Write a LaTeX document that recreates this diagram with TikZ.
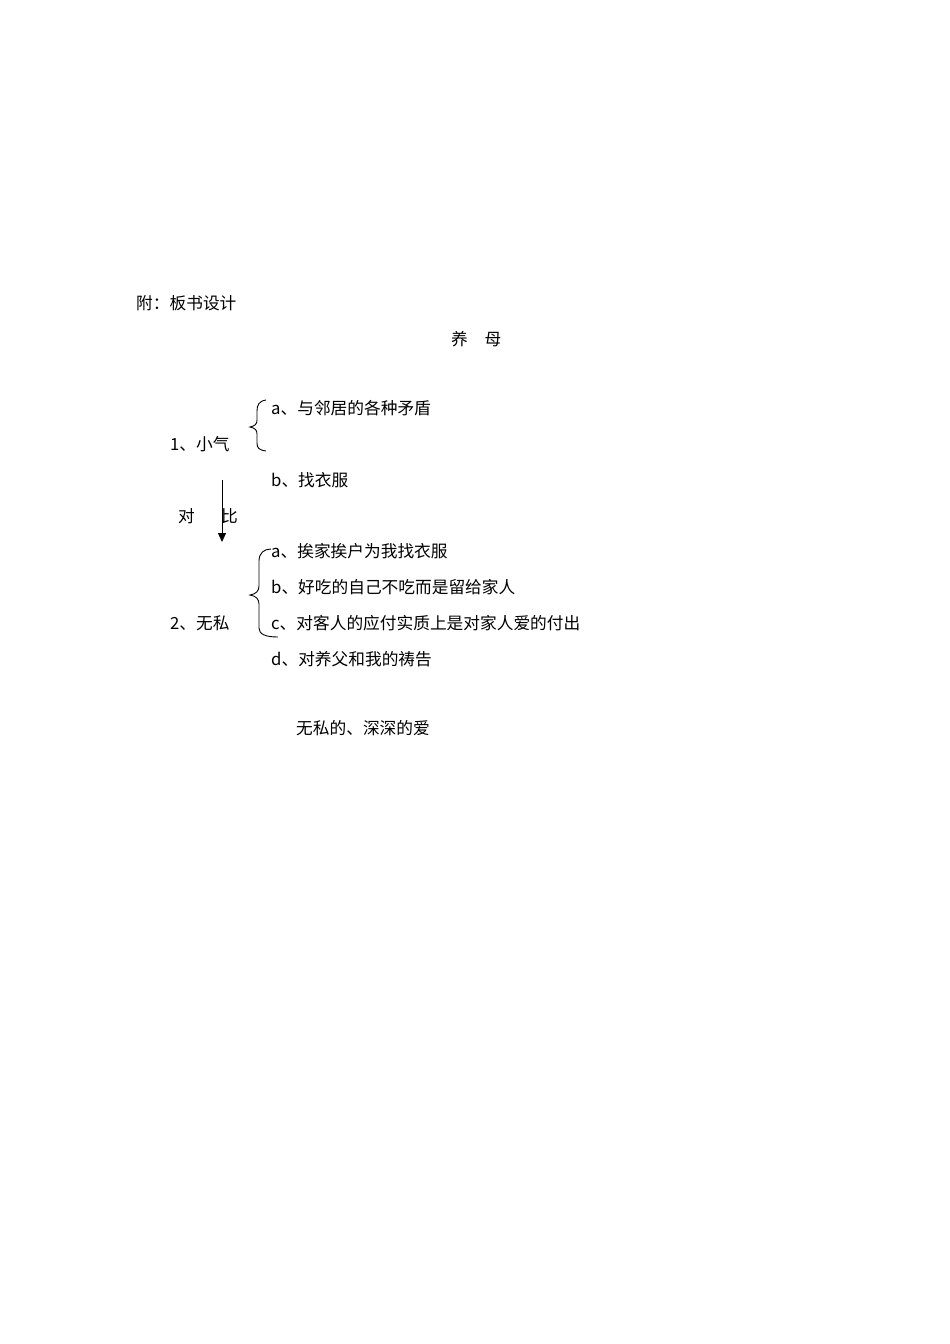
\documentclass[tikz,border=0pt]{standalone}
\usepackage{fontspec}
\setmainfont{Noto Sans CJK SC}
\usetikzlibrary{arrows.meta}
\begin{document}
\begin{tikzpicture}[x=1pt,y=-1pt,
  txt/.style={anchor=west,inner sep=0pt,font=\fontsize{16.7}{17}\selectfont},
  brace/.style={line width=0.9pt},
  arr/.style={line width=0.9pt,-{Triangle[length=9pt,width=8pt]}}]
\useasboundingbox (0,0) rectangle (950,1344);
\node[txt] (fu) at (136,303) {附：板书设计};
\node[txt] (title) at (451,339) {养\hspace{1em}母};
\node[txt] (a1) at (271,408) {a、与邻居的各种矛盾};
\node[txt] (p1) at (170,444) {1、小气};
\node[txt] (b1) at (271,480) {b、找衣服};
\node[txt] (dui) at (178,516) {对};
\node[txt] (bi) at (221,516) {比};
\node[txt] (a2) at (271,551) {a、挨家挨户为我找衣服};
\node[txt] (b2) at (271,587) {b、好吃的自己不吃而是留给家人};
\node[txt] (c2) at (271,623) {c、对客人的应付实质上是对家人爱的付出};
\node[txt] (p2) at (170,623) {2、无私};
\node[txt] (d2) at (271,659) {d、对养父和我的祷告};
\node[txt] (sum) at (296,728) {无私的、深深的爱};
% arrow
\coordinate (arS) at (222,480);
\coordinate (arE) at (222,542);
\draw[arr] (arS) -- (arE);
% brace 1
\draw[brace] (266,400) .. controls (259,401) and (257,405) .. (257,411)
  -- (257,420) .. controls (257,424) and (255,426) .. (250,427)
  .. controls (255,428) and (257,430) .. (257,434)
  -- (257,443) .. controls (257,448) and (259,450) .. (266,451);
% brace 2
\draw[brace] (271,549) .. controls (264,549) and (259,553) .. (259,561)
  -- (259,586) .. controls (259,591) and (256,594) .. (250,595)
  .. controls (256,596) and (259,599) .. (259,604)
  -- (259,628) .. controls (259,634) and (265,637) .. (278,637);
\end{tikzpicture}
\end{document}
